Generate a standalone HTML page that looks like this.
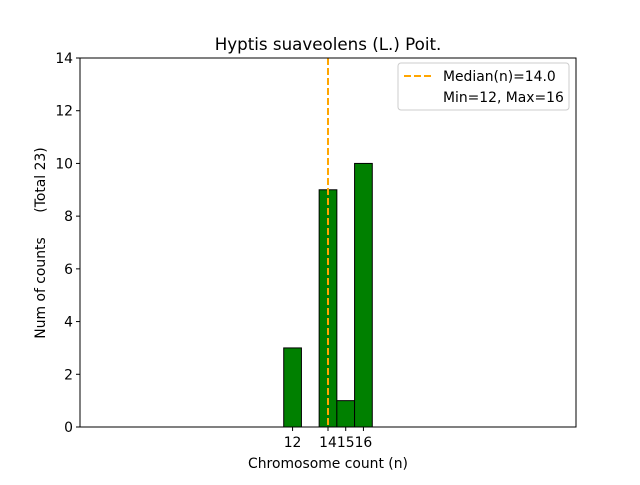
<!DOCTYPE html>
<html><head><meta charset="utf-8"><style>
body{margin:0;background:#fff;font-family:"Liberation Sans","DejaVu Sans",sans-serif;}
svg text{font-family:"DejaVu Sans","Liberation Sans",sans-serif;}
</style></head><body>
<svg id="chart" width="640" height="480" xmlns="http://www.w3.org/2000/svg">
<rect width="640" height="480" fill="#fff"/>
<text x="328" y="50" text-anchor="middle" font-size="16.7">Hyptis suaveolens (L.) Poit.</text>
<g id="bars"></g>
<g id="axes"></g>
<line id="median" stroke="orange" stroke-width="2" stroke-dasharray="7,3"/>
<rect x="80" y="58" width="496" height="369" fill="none" stroke="#000" stroke-width="1"/>
<text x="328" y="468" text-anchor="middle" font-size="13.9">Chromosome count (n)</text>
<text transform="translate(45,288) rotate(-90)" text-anchor="middle" font-size="13.9">Num of counts</text>
<text transform="translate(45,180) rotate(-90)" text-anchor="middle" font-size="13.9">(Total 23)</text>
<g>
<rect x="398" y="63" width="171" height="47" rx="3" fill="#fff" stroke="#ccc"/>
<line x1="404" y1="76" x2="432" y2="76" stroke="orange" stroke-width="2" stroke-dasharray="7,3"/>
<text x="443" y="81" font-size="13.9">Median(n)=14.0</text>
<text x="443" y="102" font-size="13.9">Min=12, Max=16</text>
</g>
</svg>
<script>
const binCenters=[0,1,2,3,4,5,6,7,8,9,10,11,12,13,14,15,16,17,18,19];
const counts=[0,0,0,0,0,0,0,0,0,0,0,0,3,0,9,1,10,0,0,0];
const xTicks=[12,14,15,16];
const yTicks=[0,2,4,6,8,10,12,14];
const medianValue=14.0;
const X0=80,X1=576,Y0=427,Y1=58,xMin=0,xMax=28,yMax=14;
const sx=v=>X0+(v-xMin)/(xMax-xMin)*(X1-X0);
const sy=v=>Y0-v/yMax*(Y0-Y1);
const NS="http://www.w3.org/2000/svg";
const bars=document.getElementById('bars'),axes=document.getElementById('axes');
binCenters.forEach((c,i)=>{
  const l=Math.max(sx(c-0.5),X0),r=sx(c+0.5);
  const b=document.createElementNS(NS,'rect');
  b.setAttribute('x',l);b.setAttribute('width',r-l);
  b.setAttribute('y',sy(counts[i]));b.setAttribute('height',Y0-sy(counts[i]));
  b.setAttribute('fill','green');b.setAttribute('stroke','#000');b.setAttribute('stroke-width','1');
  
  
  bars.appendChild(b);
});
yTicks.forEach(t=>{
  const y=sy(t);
  const ln=document.createElementNS(NS,'line');
  ln.setAttribute('x1',X0-4);ln.setAttribute('x2',X0);ln.setAttribute('y1',y);ln.setAttribute('y2',y);ln.setAttribute('stroke','#000');
  
  
  axes.appendChild(ln);
  const tx=document.createElementNS(NS,'text');
  tx.setAttribute('x',X0-7);tx.setAttribute('y',y+5);tx.setAttribute('text-anchor','end');tx.setAttribute('font-size','13.9');
  tx.textContent=t;
  
  
  axes.appendChild(tx);
});
xTicks.forEach(t=>{
  const x=sx(t);
  const ln=document.createElementNS(NS,'line');
  ln.setAttribute('x1',x);ln.setAttribute('x2',x);ln.setAttribute('y1',Y0);ln.setAttribute('y2',Y0+4);ln.setAttribute('stroke','#000');
  
  
  axes.appendChild(ln);
  const tx=document.createElementNS(NS,'text');
  tx.setAttribute('x',x);tx.setAttribute('y',Y0+20);tx.setAttribute('text-anchor','middle');tx.setAttribute('font-size','13.9');
  tx.textContent=t;
  
  
  axes.appendChild(tx);
});
const m=document.getElementById('median');
m.setAttribute('x1',sx(medianValue));m.setAttribute('x2',sx(medianValue));
m.setAttribute('y1',Y1);m.setAttribute('y2',Y0);
</script>
</body></html>
